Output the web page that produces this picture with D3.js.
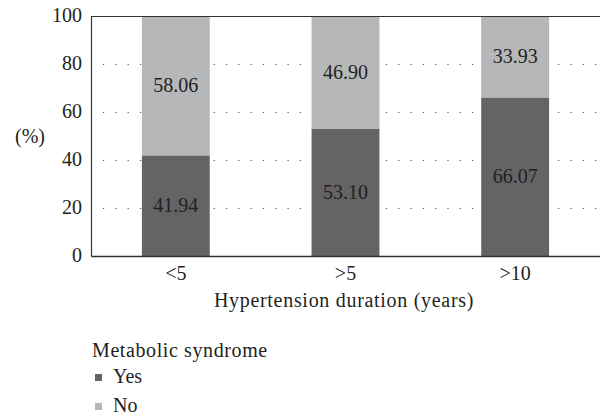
<!DOCTYPE html>
<html>
<head>
<meta charset="utf-8">
<script src="https://cdn.jsdelivr.net/npm/d3@7"></script>
<style>
  html, body { margin: 0; padding: 0; background: #fff; }
  svg { display: block; }
</style>
</head>
<body>
<svg id="chart" width="600" height="417" font-family="'Liberation Serif', 'Times New Roman', serif"></svg>
<script>
// Hypertension duration groups and share (%) with / without metabolic syndrome
const categories = ["<5", ">5", ">10"];
const yesValues = [41.94, 53.10, 66.07];
const noValues = [58.06, 46.90, 33.93];
const yTicks = [0, 20, 40, 60, 80, 100];
const seriesNames = ["Yes", "No"];
const seriesColors = ["#646466", "#b6b7b9"];

const FONT = "'Liberation Serif', 'Times New Roman', serif";
const INK = "#231f20";

const svg = d3.select("#chart");
const margin = { left: 91, right: 0, top: 16, bottom: 161 };
const W = 600, H = 417;

function styleText(sel, spacing) {
  sel.attr("font-family", FONT)
    .attr("font-size", 20)
    .attr("fill", INK)
    .style("font-family", FONT)
    .style("font-size", "20px");
  if (spacing) sel.style("letter-spacing", spacing);
  return sel;
}

const x = d3.scaleBand()
  .domain(categories)
  .range([margin.left, W - margin.right])
  .paddingInner(0.6)
  .paddingOuter(0.3);

const y = d3.scaleLinear()
  .domain([0, 100])
  .range([H - margin.bottom, margin.top]);

// dotted gridlines
svg.append("g").selectAll("line")
  .data(yTicks.filter(t => t > 0 && t < 100))
  .join("line")
  .attr("x1", margin.left + 12)
  .attr("x2", W - 2)
  .attr("y1", d => y(d) + 0.5)
  .attr("y2", d => y(d) + 0.5)
  .attr("stroke", "#555")
  .attr("stroke-width", 1.2)
  .attr("stroke-dasharray", "1.2 11.1");

// stacked bars
const rows = categories.map((c, i) => ({ cat: c, yes: yesValues[i], no: noValues[i] }));
const stack = d3.stack().keys(["yes", "no"])(rows);

const layers = svg.append("g").selectAll("g")
  .data(stack)
  .join("g")
  .attr("fill", (d, i) => seriesColors[i]);

layers.selectAll("rect")
  .data(d => d)
  .join("rect")
  .attr("x", d => x(d.data.cat))
  .attr("width", x.bandwidth())
  .attr("y", d => y(d[1]))
  .attr("height", d => y(d[0]) - y(d[1]));

// value labels centred in each segment
styleText(layers.selectAll("text")
  .data(d => d.map(p => ({ p, key: d.key })))
  .join("text")
  .attr("x", d => x(d.p.data.cat) + x.bandwidth() / 2)
  .attr("y", d => y((d.p[0] + d.p[1]) / 2))
  .attr("dy", "0.33em")
  .attr("text-anchor", "middle")
  .text(d => d.p.data[d.key].toFixed(2)));

// frame: top line, left axis, bottom axis
svg.append("line")
  .attr("x1", margin.left).attr("x2", W)
  .attr("y1", margin.top + 0.5).attr("y2", margin.top + 0.5)
  .attr("stroke", "#333").attr("stroke-width", 1);

const yAxis = svg.append("g")
  .attr("transform", `translate(${margin.left},0)`)
  .call(d3.axisLeft(y).tickValues(yTicks).tickSize(0).tickPadding(9))
  .attr("font-family", FONT).attr("font-size", 20);
yAxis.select(".domain").attr("stroke", "#333").attr("stroke-width", 1.2);
styleText(yAxis.selectAll("text").attr("dy", "0.25em"));

const xAxis = svg.append("g")
  .attr("transform", `translate(0,${H - margin.bottom})`)
  .call(d3.axisBottom(x).tickSize(0).tickPadding(10))
  .attr("font-family", FONT).attr("font-size", 20);
xAxis.select(".domain").attr("stroke", "#333").attr("stroke-width", 1.4);
styleText(xAxis.selectAll("text"));

// axis titles
styleText(svg.append("text")
  .attr("x", 30).attr("y", 136)
  .attr("dy", "0.33em")
  .attr("text-anchor", "middle")
  .text("(%)"));

styleText(svg.append("text")
  .attr("x", 344).attr("y", 307)
  .attr("text-anchor", "middle")
  .text("Hypertension duration (years)"), "0.7px");

// legend
const legend = svg.append("g");
styleText(legend.append("text")
  .attr("x", 92).attr("y", 357)
  .text("Metabolic syndrome"), "0.6px");

const items = legend.selectAll("g.item")
  .data(seriesNames)
  .join("g")
  .attr("class", "item")
  .attr("transform", (d, i) => `translate(95,${374 + i * 29})`);
items.append("rect")
  .attr("width", 7).attr("height", 7)
  .attr("fill", (d, i) => seriesColors[i]);
styleText(items.append("text")
  .attr("x", 18).attr("y", 9)
  .text(d => d));
</script>
</body>
</html>
